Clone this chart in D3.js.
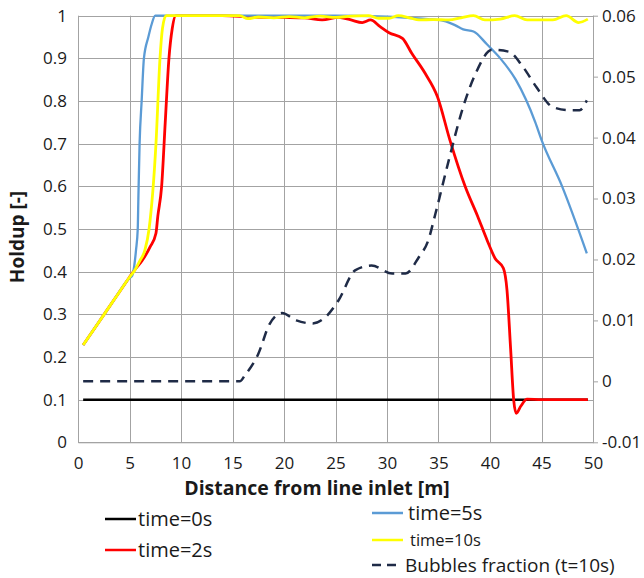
<!DOCTYPE html>
<html>
<head>
<meta charset="utf-8">
<script src="https://cdn.jsdelivr.net/npm/d3@7"></script>
<style>
  html, body { margin: 0; padding: 0; background: #fff; }
  svg { display: block; }
  text { font-family: "Open Sans", "DejaVu Sans", sans-serif; fill: #1a1a1a; }
</style>
</head>
<body>
<svg id="chart" width="644" height="578"></svg>
<script>
// ---- data: holdup along the line at several times, and bubble fraction at t=10s ----
const xTicks = [0, 5, 10, 15, 20, 25, 30, 35, 40, 45, 50];
const holdupTicks = [0, 0.1, 0.2, 0.3, 0.4, 0.5, 0.6, 0.7, 0.8, 0.9, 1];
const bubbleTicks = [-0.01, 0, 0.01, 0.02, 0.03, 0.04, 0.05, 0.06];
const holdupTickLabels = ["0", "0.1", "0.2", "0.3", "0.4", "0.5", "0.6", "0.7", "0.8", "0.9", "1"];
const bubbleTickLabels = ["-0.01", "0", "0.01", "0.02", "0.03", "0.04", "0.05", "0.06"];

const t0Distance = [0.5, 49.5];
const t0Holdup = [0.1, 0.1];

const t2Distance = [0.5, 2, 3.5, 5, 5.5, 6.2, 7.0, 7.57, 7.75, 8.12, 8.47, 8.83, 9.15, 9.5, 11, 14, 17, 20, 22,
  23.7, 25.3, 26.5, 27.6, 28.4, 29.3, 30.2, 31.5, 32.4, 33.7, 34.9, 36.1, 37.6, 38.8, 39.7, 40.5, 41.3, 41.65,
  42.0, 42.3, 42.55, 43.0, 43.6, 45, 47, 49.5];
const t2Holdup = [0.228, 0.281, 0.334, 0.387, 0.404, 0.425, 0.458, 0.49, 0.53, 0.6, 0.75, 0.9, 0.97, 1.0, 1.0,
  1.0, 0.997, 0.996, 0.995, 0.99, 0.996, 0.99, 0.984, 0.99, 0.975, 0.96, 0.947, 0.912, 0.865, 0.81, 0.709, 0.599,
  0.53, 0.475, 0.431, 0.408, 0.357, 0.22, 0.099, 0.068, 0.085, 0.101, 0.1, 0.1, 0.1];

const t5Distance = [0.5, 2, 3.5, 5, 5.25, 5.47, 5.63, 5.8, 5.86, 5.98, 6.18, 6.4, 6.83, 7.15, 7.5, 10, 15, 20,
  25, 30, 32, 34, 35.5, 36.6, 37.4, 38.4, 39.7, 41.0, 42.5, 44.4, 45.0, 47.0, 49.4];
const t5Holdup = [0.228, 0.281, 0.334, 0.385, 0.39, 0.415, 0.45, 0.5, 0.57, 0.7, 0.8, 0.9, 0.95, 0.98, 1.0, 1.0,
  1.0, 1.0, 1.0, 0.998, 0.995, 0.992, 0.988, 0.978, 0.968, 0.963, 0.933, 0.9, 0.85, 0.75, 0.709, 0.6, 0.443];

const t10Distance = [0.5, 2, 3.5, 5, 5.53, 6.0, 6.5, 6.9, 7.57, 7.96, 8.2, 8.55, 10, 12, 14, 15.7, 16.5, 17.5, 19,
  20.5, 22, 23.5, 25, 26.5, 28.2, 29.2, 30.2, 31.1, 32.2, 33.1, 34.5, 36, 37.2, 38.4, 39.5, 41, 42.4, 43.6, 45,
  46.1, 47.4, 48.6, 49.5];
const t10Holdup = [0.228, 0.281, 0.334, 0.387, 0.404, 0.425, 0.451, 0.5, 0.7, 0.9, 0.97, 1.0, 1.0, 1.0, 1.0, 1.0,
  0.993, 0.997, 0.995, 0.998, 0.995, 0.999, 0.996, 0.999, 1.0, 0.994, 0.994, 1.0, 0.995, 0.99, 0.991, 0.99, 0.995,
  1.0, 0.99, 0.992, 1.0, 0.99, 0.99, 0.99, 1.0, 0.984, 0.992];

const bubbleDistance = [0.5, 5, 10, 15.7, 16.2, 17.5, 18.6, 19.8, 21.2, 22.8, 24, 25.3, 26.9, 28.5, 30.5, 31.8,
  33.1, 34.0, 34.7, 36.0, 37.3, 38.6, 40.2, 41.8, 43.2, 44.5, 46.1, 47.7, 48.7, 49.4];
const bubbleFraction = [0, 0, 0, 0, 0.001, 0.0045, 0.0094, 0.0112, 0.01, 0.0095, 0.0105, 0.0133, 0.0182, 0.019,
  0.0177, 0.0177, 0.0204, 0.0231, 0.0275, 0.0363, 0.0445, 0.0505, 0.0544, 0.0541, 0.0516, 0.0483, 0.045, 0.0445,
  0.0445, 0.0461];

// ---- layout ----
const svg = d3.select("#chart");
const plot = { left: 78, right: 593, top: 15.7, bottom: 442.3 };
const gridColor = "#a3a3a3";

const x = d3.scaleLinear().domain([0, 50]).range([plot.left, plot.right]);
const yL = d3.scaleLinear().domain([0, 1]).range([plot.bottom, plot.top]);
const yR = d3.scaleLinear().domain([-0.01, 0.06]).range([plot.bottom, plot.top]);

// gridlines
const grid = svg.append("g").attr("stroke", gridColor).attr("stroke-width", 1);
grid.selectAll("line.v").data(xTicks).join("line")
  .attr("x1", d => Math.round(x(d)) + 0.5).attr("x2", d => Math.round(x(d)) + 0.5)
  .attr("y1", plot.top).attr("y2", plot.bottom);
grid.selectAll("line.h").data(holdupTicks).join("line")
  .attr("x1", plot.left).attr("x2", plot.right)
  .attr("y1", d => Math.round(yL(d)) + 0.5).attr("y2", d => Math.round(yL(d)) + 0.5);

// axes
const tickFont = "17px";
const axisBottom = svg.append("g").attr("transform", `translate(0,${plot.bottom})`)
  .call(d3.axisBottom(x).tickValues(xTicks).tickSize(0).tickPadding(15).tickFormat(d3.format("d")));
const axisLeft = svg.append("g").attr("transform", `translate(${plot.left},0)`)
  .call(d3.axisLeft(yL).tickValues(holdupTicks).tickSize(0).tickPadding(11)
    .tickFormat((d, i) => holdupTickLabels[i]));
const axisRight = svg.append("g").attr("transform", `translate(${plot.right},0)`)
  .call(d3.axisRight(yR).tickValues(bubbleTicks).tickSizeInner(5).tickSizeOuter(0).tickPadding(4)
    .tickFormat((d, i) => bubbleTickLabels[i]));
[axisBottom, axisLeft, axisRight].forEach(g => {
  g.select(".domain").attr("stroke", gridColor);
  g.selectAll(".tick line").attr("stroke", gridColor);
  g.selectAll(".tick text").style("font-size", tickFont).attr("fill", "#1a1a1a");
});

// axis titles
svg.append("text")
  .attr("x", 317).attr("y", 495)
  .attr("text-anchor", "middle")
  .style("font-size", "19.5px").style("font-weight", "bold")
  .text("Distance from line inlet [m]");
svg.append("text")
  .attr("transform", "translate(24,237) rotate(-90)")
  .attr("text-anchor", "middle")
  .style("font-size", "19px").style("font-weight", "bold")
  .text("Holdup [-]");

// series
const lineL = d3.line().x(d => x(d[0])).y(d => yL(d[1])).curve(d3.curveMonotoneX);
const lineR = d3.line().x(d => x(d[0])).y(d => yR(d[1])).curve(d3.curveMonotoneX);
const zip = (a, b) => a.map((v, i) => [v, b[i]]);

const series = [
  { name: "time=0s", pts: zip(t0Distance, t0Holdup), color: "#000000", width: 2.5, gen: lineL },
  { name: "time=2s", pts: zip(t2Distance, t2Holdup), color: "#ff0000", width: 2.8, gen: lineL },
  { name: "time=5s", pts: zip(t5Distance, t5Holdup), color: "#5b9bd5", width: 2.3, gen: lineL },
  { name: "time=10s", pts: zip(t10Distance, t10Holdup), color: "#ffff00", width: 2.8, gen: lineL },
  { name: "Bubbles fraction (t=10s)", pts: zip(bubbleDistance, bubbleFraction), color: "#1f2b47", width: 2.5,
    gen: lineR, dash: "10,7" }
];

svg.append("g").selectAll("path").data(series).join("path")
  .attr("d", d => d.gen(d.pts))
  .attr("fill", "none")
  .attr("stroke", d => d.color)
  .attr("stroke-width", d => d.width)
  .attr("stroke-linejoin", "round")
  .attr("stroke-dasharray", d => d.dash || null);

// legend
const legendItems = [
  { s: series[0], x: 105, y: 519, size: "20px", tx: 33 },
  { s: series[1], x: 105, y: 550, size: "20px", tx: 33 },
  { s: series[2], x: 372, y: 513, size: "20px", tx: 36 },
  { s: series[3], x: 372, y: 540, size: "16.5px", tx: 38 },
  { s: series[4], x: 372, y: 565, size: "19px", tx: 33 }
];
const lg = svg.append("g").selectAll("g").data(legendItems).join("g")
  .attr("transform", d => `translate(${d.x},${d.y})`);
lg.append("line")
  .attr("x1", 0).attr("x2", d => d.s.dash ? 26 : 31)
  .attr("stroke", d => d.s.color)
  .attr("stroke-width", 2.5)
  .attr("stroke-dasharray", d => d.s.dash ? "9,6" : null);
lg.append("text")
  .attr("x", d => d.tx)
  .attr("dy", "0.35em")
  .style("font-size", d => d.size)
  .text(d => d.s.name);
</script>
</body>
</html>
